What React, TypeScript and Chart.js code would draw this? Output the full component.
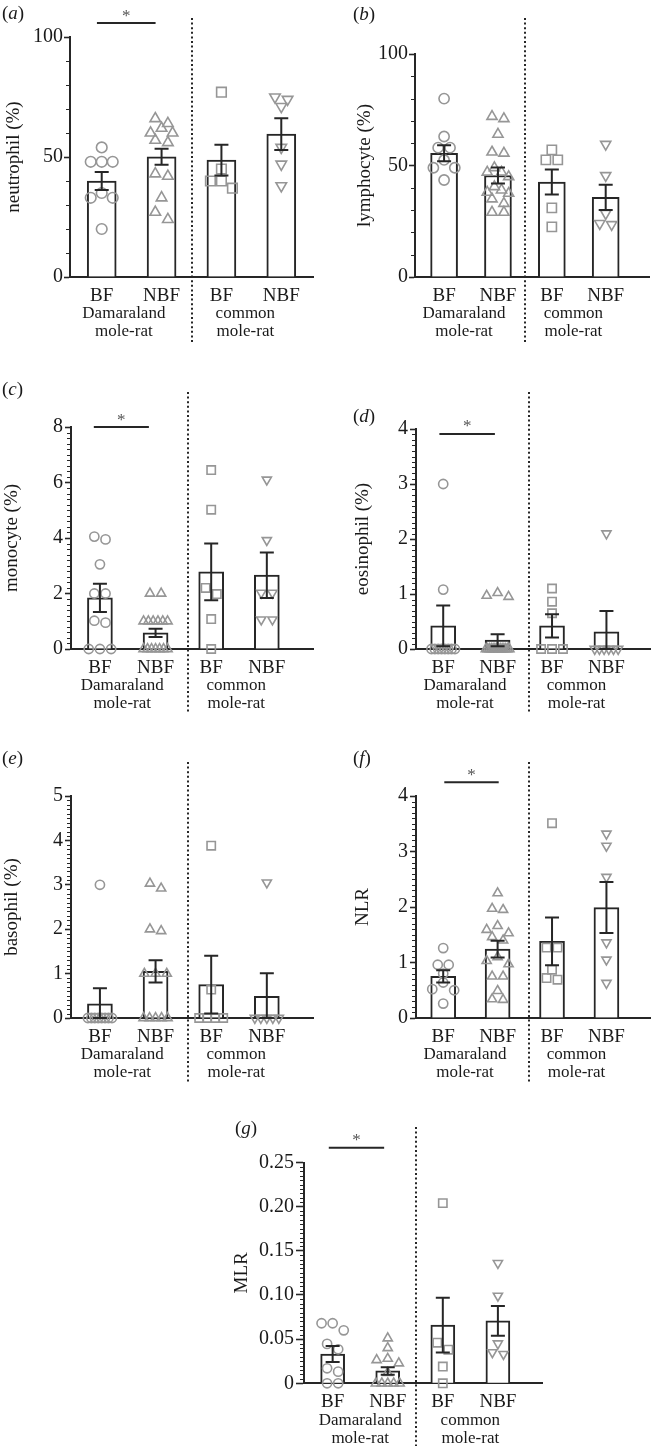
import React, { useEffect, useRef } from "react";
import { Chart, registerables } from "chart.js";
Chart.register(...registerables);

// ---------- shared labels ----------
const categoryLabels = ["BF", "NBF", "BF", "NBF"];
const groupLabels = [["Damaraland", "mole-rat"], ["common", "mole-rat"]];

// ---------- (a) neutrophil (%) ----------
const neutBF = [54, 48, 48, 48, 35, 33, 33, 20];
const neutNBF = [66, 64, 62, 60, 60, 57, 56, 43, 42, 33, 27, 24];
const neutCBF = [77, 45, 40, 40, 37];
const neutCNBF = [75, 74, 71, 54, 47, 38];
const neutMean = [40, 50.1, 48.7, 59.5];
const neutSEM = [3.7, 3.3, 6.4, 6.6];
const neutTicks = [0, 50, 100];

// ---------- (b) lymphocyte (%) ----------
const lymBF = [80, 63, 58, 58, 52.5, 49, 49, 43.5];
const lymNBF = [72, 71, 64, 56, 55.5, 49, 47, 47, 45, 40.5, 39, 38, 37.5, 35, 33, 29, 29];
const lymCBF = [57, 52.5, 52.5, 31, 22.5];
const lymCNBF = [59.5, 45.5, 28.5, 24, 23.5];
const lymMean = [55.5, 45.5, 42.6, 35.7];
const lymSEM = [3.6, 3.6, 5.6, 5.65];
const lymTicks = [0, 50, 100];

// ---------- (c) monocyte (%) ----------
const monoBF = [4.05, 3.95, 3.05, 2, 2, 1.02, 0.95, 0, 0, 0];
const monoNBF = [2, 2, 1, 1, 1, 1, 1, 1, 0, 0, 0, 0, 0, 0, 0];
const monoCBF = [6.45, 5.02, 2.2, 1.98, 1.08, 0];
const monoCNBF = [6.1, 3.92, 2.02, 2.02, 1.06, 1.06];
const monoMean = [1.84, 0.58, 2.78, 2.66];
const monoSEM = [0.51, 0.15, 1.02, 0.82];
const monoTicks = [0, 2, 4, 6, 8];

// ---------- (d) eosinophil (%) ----------
const eosBF = [3.0, 1.08, 0, 0, 0, 0, 0, 0, 0, 0];
const eosNBF = [1.02, 0.97, 0.95, 0, 0, 0, 0, 0, 0, 0, 0, 0, 0, 0, 0, 0, 0];
const eosCBF = [1.1, 0.86, 0.65, 0, 0, 0];
const eosCNBF = [2.1, 0, 0, 0, 0, 0, 0];
const eosMean = [0.42, 0.16, 0.42, 0.31];
const eosSEM = [0.37, 0.11, 0.21, 0.38];
const eosTicks = [0, 1, 2, 3, 4];

// ---------- (e) basophil (%) ----------
const basBF = [3.0, 0, 0, 0, 0, 0, 0, 0, 0];
const basNBF = [3.03, 2.92, 2.0, 1.96, 1, 1, 1, 0, 0, 0, 0, 0];
const basCBF = [3.88, 0.64, 0, 0, 0, 0];
const basCNBF = [3.05, 0, 0, 0, 0, 0];
const basMean = [0.32, 1.05, 0.75, 0.49];
const basSEM = [0.35, 0.25, 0.65, 0.52];
const basTicks = [0, 1, 2, 3, 4, 5];

// ---------- (f) NLR ----------
const nlrBF = [1.26, 0.96, 0.96, 0.8, 0.64, 0.52, 0.5, 0.26];
const nlrNBF = [2.25, 1.97, 1.95, 1.66, 1.59, 1.53, 1.46, 1.4, 1.1, 1.03, 0.97, 0.75, 0.75, 0.49, 0.34, 0.33];
const nlrCBF = [3.51, 1.27, 1.27, 0.87, 0.72, 0.69];
const nlrCNBF = [3.32, 3.1, 2.54, 1.36, 1.05, 0.63];
const nlrMean = [0.75, 1.24, 1.38, 1.99];
const nlrSEM = [0.11, 0.15, 0.43, 0.46];
const nlrTicks = [0, 1, 2, 3, 4];

// ---------- (g) MLR ----------
const mlrBF = [0.068, 0.068, 0.06, 0.0446, 0.0385, 0.017, 0.0132, 0, 0];
const mlrNBF = [0.051, 0.04, 0.028, 0.0264, 0.0227, 0.012, 0, 0, 0, 0, 0];
const mlrCBF = [0.204, 0.046, 0.038, 0.019, 0];
const mlrCNBF = [0.136, 0.099, 0.045, 0.035, 0.033];
const mlrMean = [0.0332, 0.014, 0.066, 0.0706];
const mlrSEM = [0.009, 0.0043, 0.031, 0.0168];
const mlrTicks = [0, 0.05, 0.1, 0.15, 0.2, 0.25];

const FONT = '"Liberation Serif", "Times New Roman", serif';
const INK = "#262626";
const TEXT = "#1a1a1a";
const GREY = "#969696";
const X_H = 28; // height of the category axis box
const X2_H = 36; // height of the species axis box

type Panel = {
  letter: string;
  title: string;
  groups: number[][];
  means: number[];
  sems: number[];
  ticks: number[];
  yMax: number;
  minor: number;
  fmt: (v: number) => string;
  sig: number[] | null;
  divider: number;
  groupPos: number[];
  box: { l: number; t: number; w: number; h: number };
  area: { l: number; t: number; r: number; b: number };
  xMin: number;
  xMax: number;
  barW: number;
  ms: number;
  span: number;
  titlePad: number;
  tickLen: number;
  tickPad: number;
  labelPos: { x: number; y: number };
  dividerTop: number;
};

const plain = (v: number) => String(v);

const panels: Panel[] = [
  {
    letter: "a", title: "neutrophil (%)",
    groups: [neutBF, neutNBF, neutCBF, neutCNBF], means: neutMean, sems: neutSEM,
    ticks: neutTicks, yMax: 100, minor: 10, fmt: plain, sig: [-0.08, 0.9, 105.8],
    divider: 1.5, groupPos: [0.37, 2.4],
    box: { l: 0, t: 0, w: 329, h: 345 }, area: { l: 70, t: 37, r: 313, b: 277 },
    xMin: -0.53, xMax: 3.53, barW: 29, ms: 5.3, span: 22, titlePad: 2.6, tickLen: 6, tickPad: 1,
    labelPos: { x: 2, y: 13 }, dividerTop: 18,
  },
  {
    letter: "b", title: "lymphocyte (%)",
    groups: [lymBF, lymNBF, lymCBF, lymCNBF], means: lymMean, sems: lymSEM,
    ticks: lymTicks, yMax: 100, minor: 10, fmt: plain, sig: null,
    divider: 1.5, groupPos: [0.37, 2.4],
    box: { l: 329, t: 0, w: 329, h: 345 }, area: { l: 86, t: 54, r: 327, b: 277 },
    xMin: -0.54, xMax: 3.82, barW: 27, ms: 5.1, span: 22, titlePad: 25, tickLen: 6, tickPad: 1,
    labelPos: { x: 353, y: 14 }, dividerTop: 18,
  },
  {
    letter: "c", title: "monocyte (%)",
    groups: [monoBF, monoNBF, monoCBF, monoCNBF], means: monoMean, sems: monoSEM,
    ticks: monoTicks, yMax: 8, minor: 0.2, fmt: plain, sig: [-0.11, 0.88, 8],
    divider: 1.58, groupPos: [0.4, 2.45],
    box: { l: 0, t: 360, w: 329, h: 356 }, area: { l: 71, t: 67, r: 313, b: 289 },
    xMin: -0.52, xMax: 3.83, barW: 25, ms: 4.6, span: 24, titlePad: 1, tickLen: 6, tickPad: 2,
    labelPos: { x: 2, y: 389 }, dividerTop: 32,
  },
  {
    letter: "d", title: "eosinophil (%)",
    groups: [eosBF, eosNBF, eosCBF, eosCNBF], means: eosMean, sems: eosSEM,
    ticks: eosTicks, yMax: 4, minor: 0.1, fmt: plain, sig: [-0.07, 0.95, 3.91],
    divider: 1.58, groupPos: [0.4, 2.45],
    box: { l: 329, t: 360, w: 329, h: 356 }, area: { l: 87, t: 69, r: 327, b: 289 },
    xMin: -0.5, xMax: 3.81, barW: 25, ms: 4.6, span: 24, titlePad: 22.6, tickLen: 6, tickPad: 2,
    labelPos: { x: 353, y: 416 }, dividerTop: 32,
  },
  {
    letter: "e", title: "basophil (%)",
    groups: [basBF, basNBF, basCBF, basCNBF], means: basMean, sems: basSEM,
    ticks: basTicks, yMax: 5, minor: 0.1, fmt: plain, sig: null,
    divider: 1.58, groupPos: [0.4, 2.45],
    box: { l: 0, t: 720, w: 329, h: 366 }, area: { l: 71, t: 76, r: 313, b: 298 },
    xMin: -0.52, xMax: 3.83, barW: 25, ms: 4.6, span: 24, titlePad: 1, tickLen: 6, tickPad: 2,
    labelPos: { x: 2, y: 758 }, dividerTop: 42,
  },
  {
    letter: "f", title: "NLR",
    groups: [nlrBF, nlrNBF, nlrCBF, nlrCNBF], means: nlrMean, sems: nlrSEM,
    ticks: nlrTicks, yMax: 4, minor: 0.1, fmt: plain, sig: [0.02, 1.02, 4.25],
    divider: 1.58, groupPos: [0.4, 2.45],
    box: { l: 329, t: 720, w: 329, h: 366 }, area: { l: 87, t: 76, r: 327, b: 298 },
    xMin: -0.5, xMax: 3.81, barW: 25, ms: 4.6, span: 24, titlePad: 22.6, tickLen: 6, tickPad: 2,
    labelPos: { x: 353, y: 758 }, dividerTop: 42,
  },
  {
    letter: "g", title: "MLR",
    groups: [mlrBF, mlrNBF, mlrCBF, mlrCNBF], means: mlrMean, sems: mlrSEM,
    ticks: mlrTicks, yMax: 0.25, minor: 0.005, fmt: (v: number) => (v === 0 ? "0" : v.toFixed(2)),
    sig: [-0.07, 0.935, 0.2668],
    divider: 1.51, groupPos: [0.5, 2.5],
    box: { l: 180, t: 1088, w: 370, h: 361 }, area: { l: 124, t: 74.5, r: 365, b: 295.3 },
    xMin: -0.52, xMax: 3.81, barW: 24, ms: 4.6, span: 24, titlePad: 51, tickLen: 8, tickPad: 2,
    labelPos: { x: 235, y: 1128 }, dividerTop: 39,
  },
];

const pointStyles = ["circle", "triangle", "rect", "triangle"];
const pointRot = [0, 0, 0, 180];
const radiusMul = [1, 1.15, 1.28, 1.15];

// Arrange the points of one group side by side where they would overlap.
function swarm(values: number[], center: number, pxX: number, pxY: number, diam: number, maxSpan: number) {
  const idx = values.map((_, i) => i).sort((i, j) => values[j] - values[i]);
  const rows: number[][] = [];
  let cur: number[] = [];
  let start = 0;
  for (const i of idx) {
    if (cur.length && (start - values[i]) * pxY < diam * 0.8) cur.push(i);
    else {
      if (cur.length) rows.push(cur);
      cur = [i];
      start = values[i];
    }
  }
  if (cur.length) rows.push(cur);
  const pts: { x: number; y: number }[] = [];
  for (const row of rows) {
    const n = row.length;
    const sp = n > 1 ? Math.min(diam + 1, maxSpan / (n - 1)) : 0;
    const slots = Array.from({ length: n }, (_, k) => (k - (n - 1) / 2) * sp);
    slots.sort((a, b) => Math.abs(a) - Math.abs(b) || a - b);
    row.forEach((i, k) => pts.push({ x: center + slots[k] / pxX, y: values[i] }));
  }
  return pts;
}

function buildConfig(p: Panel): any {
  const pxX = (p.area.r - p.area.l) / (p.xMax - p.xMin);
  const pxY = (p.area.b - p.area.t) / p.yMax;
  const deco = {
    id: "deco" + p.letter,
    afterDraw(chart: any) {
      const { ctx } = chart;
      const xs = chart.scales.x;
      const ys = chart.scales.y;
      const ca = chart.chartArea;
      ctx.save();
      // minor ticks
      ctx.strokeStyle = INK;
      ctx.lineWidth = 1;
      const n = Math.round(p.yMax / p.minor);
      for (let k = 0; k <= n; k++) {
        const v = k * p.minor;
        if (p.ticks.some((t) => Math.abs(t - v) < p.minor / 10)) continue;
        const y = Math.round(ys.getPixelForValue(v)) + 0.5;
        ctx.beginPath();
        ctx.moveTo(ca.left - 4, y);
        ctx.lineTo(ca.left, y);
        ctx.stroke();
      }
      // error bars (mean ± SEM)
      ctx.lineWidth = 2;
      ctx.strokeStyle = INK;
      const cap = 7;
      p.means.forEach((m, i) => {
        const x = xs.getPixelForValue(i);
        const yt = ys.getPixelForValue(m + p.sems[i]);
        const yb = ys.getPixelForValue(Math.max(m - p.sems[i], 0));
        ctx.beginPath();
        ctx.moveTo(x, yt);
        ctx.lineTo(x, yb);
        ctx.moveTo(x - cap, yt);
        ctx.lineTo(x + cap, yt);
        ctx.moveTo(x - cap, yb);
        ctx.lineTo(x + cap, yb);
        ctx.stroke();
      });
      // significance bar
      if (p.sig) {
        const x1 = xs.getPixelForValue(p.sig[0]);
        const x2 = xs.getPixelForValue(p.sig[1]);
        const y = ys.getPixelForValue(p.sig[2]);
        ctx.beginPath();
        ctx.moveTo(x1, y);
        ctx.lineTo(x2, y);
        ctx.stroke();
        ctx.fillStyle = "#555";
        ctx.font = `17px ${FONT}`;
        ctx.textAlign = "center";
        ctx.textBaseline = "alphabetic";
        ctx.fillText("*", (x1 + x2) / 2, y - 2.5);
      }
      // dotted separator between species
      const xd = Math.round(xs.getPixelForValue(p.divider));
      ctx.setLineDash([2, 2.6]);
      ctx.lineWidth = 2;
      ctx.strokeStyle = INK;
      ctx.beginPath();
      ctx.moveTo(xd, p.dividerTop);
      ctx.lineTo(xd, chart.height - 3);
      ctx.stroke();
      ctx.restore();
    },
  };

  const scatterSets = p.groups.map((vals, g) => ({
    type: "scatter",
    data: swarm(vals, g, pxX, pxY, 2 * p.ms + 1, p.span),
    pointStyle: pointStyles[g],
    pointRotation: pointRot[g],
    pointRadius: p.ms * radiusMul[g],
    pointHoverRadius: p.ms * radiusMul[g],
    pointBorderColor: GREY,
    pointBackgroundColor: "rgba(0,0,0,0)",
    pointBorderWidth: 1.6,
    showLine: false,
    clip: false,
    order: 1,
    xAxisID: "x",
    yAxisID: "y",
  }));

  return {
    type: "bar",
    data: {
      datasets: [
        {
          type: "bar",
          data: p.means.map((m, i) => ({ x: i, y: m })),
          backgroundColor: "#ffffff",
          borderColor: INK,
          borderWidth: 2,
          barThickness: p.barW,
          order: 2,
          xAxisID: "x",
          yAxisID: "y",
        },
        ...scatterSets,
      ],
    },
    options: {
      responsive: false,
      animation: false,
      events: [],
      layout: {
        padding: {
          left: 0,
          top: p.area.t,
          right: p.box.w - p.area.r,
          bottom: p.box.h - p.area.b - X_H - X2_H,
        },
      },
      plugins: { legend: { display: false }, tooltip: { enabled: false } },
      scales: {
        x: {
          type: "linear",
          position: "bottom",
          offset: false,
          weight: 0,
          min: p.xMin,
          max: p.xMax,
          afterBuildTicks: (s: any) => {
            s.ticks = [0, 1, 2, 3].map((v) => ({ value: v }));
          },
          afterFit: (s: any) => {
            s.height = X_H;
          },
          ticks: {
            callback: (_v: any, i: number) => categoryLabels[i],
            font: { family: FONT, size: 19 },
            color: TEXT,
            padding: 7.5,
            maxRotation: 0,
            autoSkip: false,
          },
          grid: { display: false, drawTicks: false, offset: false },
          border: { display: true, color: INK, width: 2 },
        },
        x2: {
          type: "linear",
          position: "bottom",
          offset: false,
          weight: 1,
          min: p.xMin,
          max: p.xMax,
          afterBuildTicks: (s: any) => {
            s.ticks = p.groupPos.map((v) => ({ value: v }));
          },
          afterFit: (s: any) => {
            s.height = X2_H;
          },
          ticks: {
            callback: (_v: any, i: number) => groupLabels[i],
            font: { family: FONT, size: 17, lineHeight: 1.05 },
            color: TEXT,
            padding: 0,
            maxRotation: 0,
            autoSkip: false,
          },
          grid: { display: false, drawTicks: false, offset: false },
          border: { display: false },
        },
        y: {
          type: "linear",
          position: "left",
          min: 0,
          max: p.yMax,
          afterBuildTicks: (s: any) => {
            s.ticks = p.ticks.map((v) => ({ value: v }));
          },
          afterFit: (s: any) => {
            s.width = p.area.l;
          },
          ticks: {
            callback: (v: any) => p.fmt(Number(v)),
            font: { family: FONT, size: 20 },
            color: TEXT,
            padding: p.tickPad,
          },
          grid: {
            drawOnChartArea: false,
            drawTicks: true,
            tickLength: p.tickLen,
            tickColor: INK,
            tickWidth: 1.6,
          },
          border: { display: true, color: INK, width: 2 },
          title: {
            display: true,
            text: p.title,
            font: { family: FONT, size: 19 },
            color: TEXT,
            padding: { top: p.titlePad, bottom: 0 },
          },
        },
      },
    },
    plugins: [deco],
  };
}

function PanelChart({ p }: { p: Panel }) {
  const ref = useRef<HTMLCanvasElement | null>(null);
  useEffect(() => {
    if (!ref.current) return;
    const chart = new Chart(ref.current, buildConfig(p));
    return () => chart.destroy();
  }, []);
  return (
    <canvas
      ref={ref}
      width={p.box.w}
      height={p.box.h}
      style={{ position: "absolute", left: p.box.l, top: p.box.t, width: p.box.w, height: p.box.h }}
    />
  );
}

export default function App() {
  return (
    <div style={{ position: "absolute", left: 0, top: 0, width: 658, height: 1449, background: "#fff", overflow: "hidden" }}>
      {panels.map((p) => (
        <PanelChart key={p.letter} p={p} />
      ))}
      {panels.map((p) => (
        <div
          key={"lab" + p.letter}
          style={{
            position: "absolute",
            left: p.labelPos.x,
            top: p.labelPos.y - 11,
            height: 22,
            lineHeight: "22px",
            fontFamily: FONT,
            fontSize: 19,
            color: TEXT,
            whiteSpace: "nowrap",
          }}
        >
          (<i>{p.letter}</i>)
        </div>
      ))}
    </div>
  );
}
